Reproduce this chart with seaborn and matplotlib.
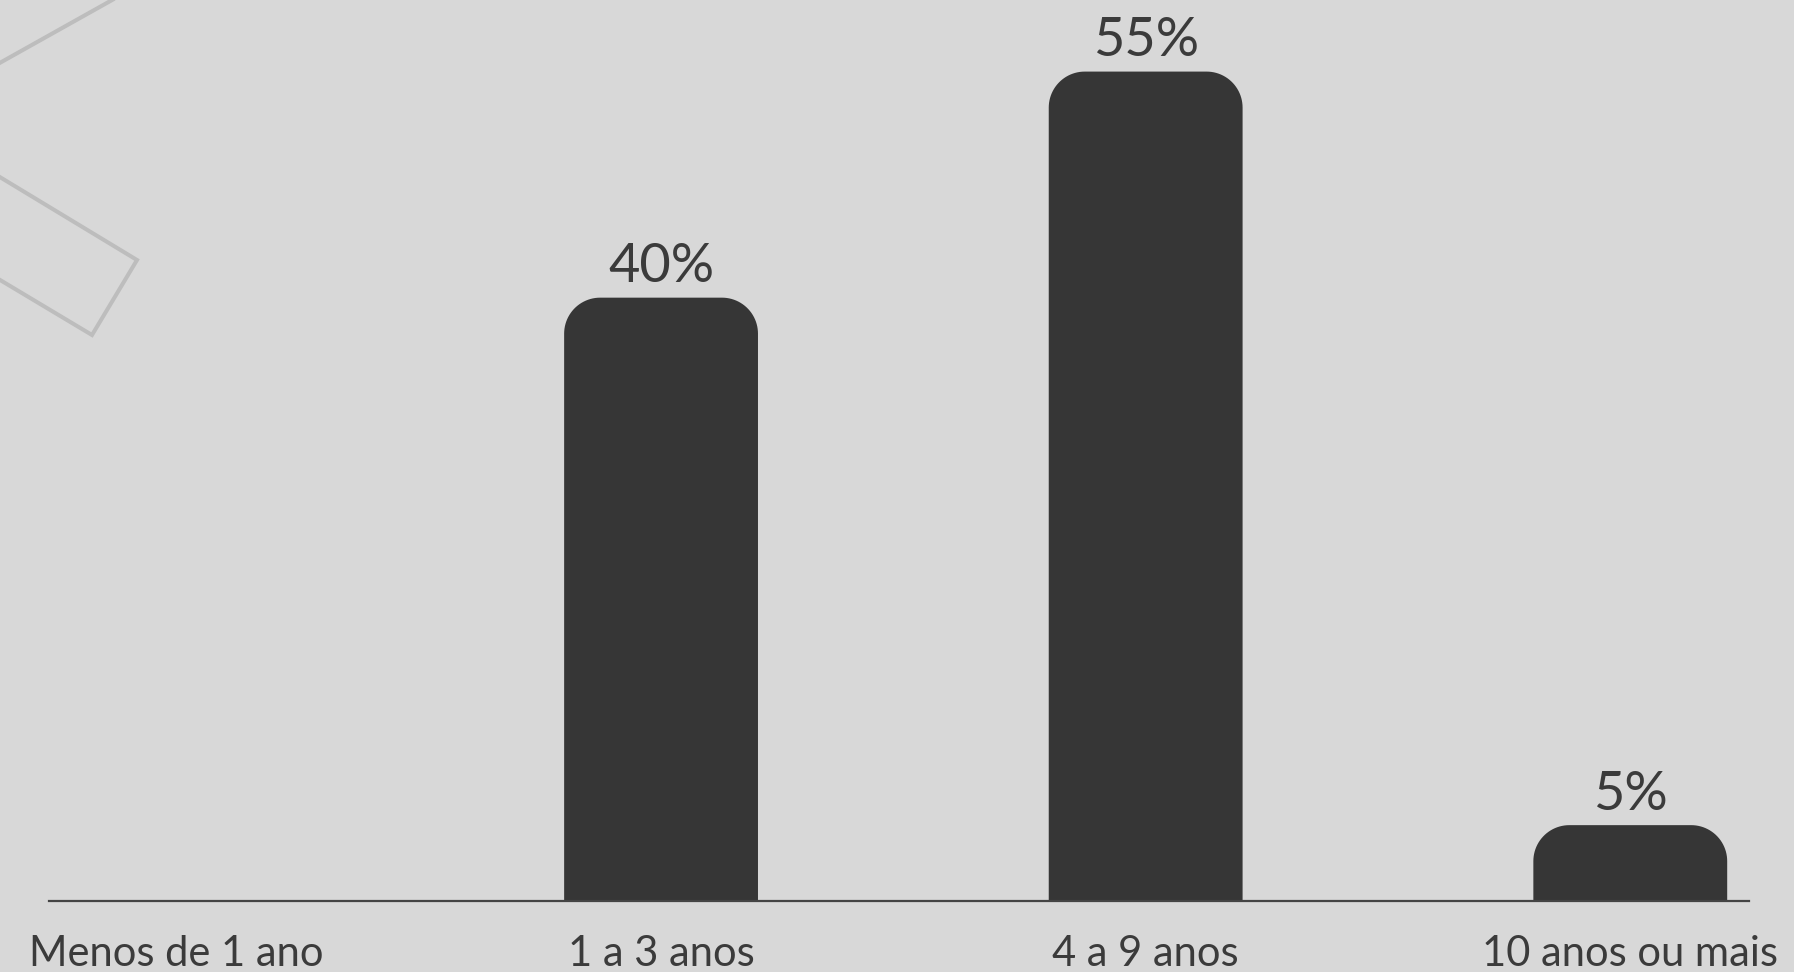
import matplotlib
matplotlib.use("Agg")
import numpy as np
import matplotlib.pyplot as plt
import seaborn as sns
import pandas as pd
from matplotlib.path import Path
from matplotlib.patches import PathPatch
from matplotlib.lines import Line2D

# Tempo de experiência (percentual de respondentes)
categories = ["Menos de 1 ano", "1 a 3 anos", "4 a 9 anos", "10 anos ou mais"]
percentages = [0, 40, 55, 5]

BG = "#d8d8d8"
BAR = "#363636"
TEXT = "#3b3b3b"
DECOR = "#bdbdbd"

W, H = 1794, 972

sns.set_theme(style="white")
plt.rcParams["font.family"] = ["Lato", "DejaVu Sans"]

fig = plt.figure(figsize=(W / 100, H / 100), dpi=100, facecolor=BG)

# plot area: baseline 900 px from the top, spanning 49..1749 px horizontally
base_px = 900.5
ax = fig.add_axes([49 / W, (H - base_px) / H, 1700 / W, base_px / H])
ax.set_facecolor("none")

df = pd.DataFrame({"faixa": categories, "pct": percentages})
sns.barplot(data=df, x="faixa", y="pct", color=BAR, saturation=1,
            width=0.4, ax=ax)

xlim = (-0.263, 3.245)
ylim = (0, 59.75)
ax.set_xlim(*xlim)
ax.set_ylim(*ylim)

# rounded tops: replace each rectangle with an outline whose two upper
# corners are quarter-ellipses (circular on screen)
px_per_x = 1700 / (xlim[1] - xlim[0])
px_per_y = base_px / (ylim[1] - ylim[0])
radius_px = 36
rx = radius_px / px_per_x
ry_full = radius_px / px_per_y


def rounded_top_path(x0, w, h):
    ry = min(ry_full, h)
    t_left = np.linspace(np.pi, np.pi / 2, 24)
    t_right = np.linspace(np.pi / 2, 0, 24)
    verts = [(x0, 0)]
    verts += [(x0 + rx + rx * np.cos(t), h - ry + ry * np.sin(t)) for t in t_left]
    verts += [(x0 + w - rx + rx * np.cos(t), h - ry + ry * np.sin(t)) for t in t_right]
    verts += [(x0 + w, 0), (x0, 0)]
    codes = [Path.MOVETO] + [Path.LINETO] * (len(verts) - 2) + [Path.CLOSEPOLY]
    return Path(verts, codes)


for patch in list(ax.patches):
    x0, w, h = patch.get_x(), patch.get_width(), patch.get_height()
    patch.remove()
    if h <= 0:
        continue
    ax.add_patch(PathPatch(rounded_top_path(x0, w, h), facecolor=BAR,
                           edgecolor="none", zorder=2))

# value labels above bars
for i, v in enumerate(percentages):
    if v > 0:
        ax.annotate(f"{v}%", (i, v), xytext=(0, 11), textcoords="offset points",
                    ha="center", va="baseline", fontsize=39, color=TEXT)

# axes styling
for side in ["left", "right", "top"]:
    ax.spines[side].set_visible(False)
ax.spines["bottom"].set_color("#444444")
ax.spines["bottom"].set_linewidth(1.6)
ax.spines["bottom"].set_zorder(3)
ax.set_yticks([])
ax.set_xlabel("")
ax.set_ylabel("")
ax.tick_params(axis="x", length=0, pad=25, labelsize=30, labelcolor=TEXT)


# decorative outline shapes in the upper-left corner
def fig_pts(points):
    return [p[0] / W for p in points], [1 - p[1] / H for p in points]


for pts in ([(-20, 74), (130, -10)],
            [(-30, 159), (137, 260), (92, 335), (-30, 262)]):
    xs, ys = fig_pts(pts)
    fig.add_artist(Line2D(xs, ys, transform=fig.transFigure, color=DECOR,
                          linewidth=2.9, solid_joinstyle="miter", zorder=0))

fig.savefig("out.png", dpi=100, facecolor=BG)
